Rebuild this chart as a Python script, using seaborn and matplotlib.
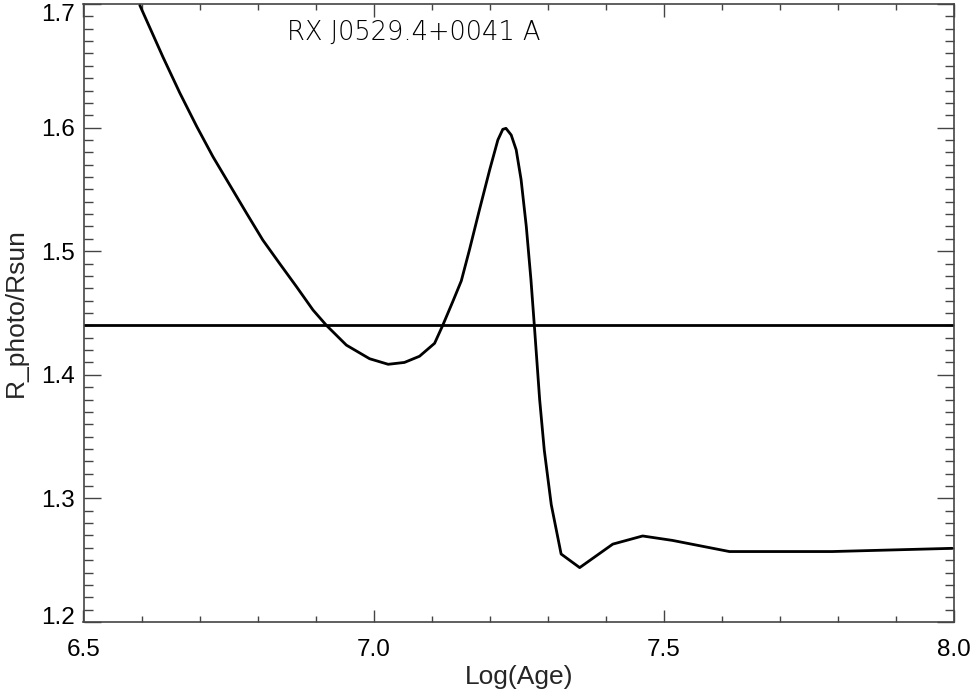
import numpy as np
import pandas as pd
import matplotlib
matplotlib.use("Agg")
import matplotlib.pyplot as plt
import matplotlib.transforms as mtransforms
from matplotlib.ticker import MultipleLocator
import seaborn as sns

# ---- data ----
log_age = [6.597, 6.637, 6.666, 6.695, 6.723, 6.752, 6.781, 6.809, 6.838, 6.867,
           6.8955, 6.9186, 6.953, 6.993,
           7.025, 7.053, 7.079, 7.105, 7.119, 7.137, 7.151, 7.165, 7.182, 7.200,
           7.214, 7.2225, 7.228, 7.237, 7.2456, 7.254, 7.263, 7.271, 7.277, 7.286,
           7.294, 7.306, 7.323, 7.355, 7.412, 7.4635, 7.515, 7.613, 7.790, 7.997]
r_photo = [1.699, 1.657, 1.628, 1.601, 1.5765, 1.5536, 1.5307, 1.509, 1.490, 1.4713,
           1.4524, 1.440, 1.424, 1.413,
           1.4085, 1.410, 1.415, 1.4255, 1.440, 1.460, 1.476, 1.501, 1.533, 1.566,
           1.590, 1.5986, 1.5994, 1.594, 1.582, 1.558, 1.520, 1.477, 1.439, 1.380,
           1.339, 1.295, 1.255, 1.244, 1.263, 1.2696, 1.266, 1.257, 1.257, 1.2596]
r_observed = 1.44
x_range = [6.5, 8.0]
y_range = [1.2, 1.7]
x_ticks = [6.5, 7.0, 7.5, 8.0]
y_ticks = [1.2, 1.3, 1.4, 1.5, 1.6, 1.7]
title_text = "RX J0529.4+0041 A"
x_label = "Log(Age)"
y_label = "R_photo/Rsun"

sns.set_style("ticks")
plt.rcParams['font.family'] = ['Liberation Sans', 'DejaVu Sans']

W, H = 973, 692
fig = plt.figure(figsize=(W / 100, H / 100), dpi=100)
ax = fig.add_axes([83.5 / W, 1 - 622 / H, (954 - 83.5) / W, (622 - 4) / H])

df = pd.DataFrame({"log_age": log_age, "r_photo": r_photo})
sns.lineplot(data=df, x="log_age", y="r_photo", sort=False, color="black",
             linewidth=2.0, ax=ax)
ax.axhline(r_observed, color="black", linewidth=2.0)

ax.set_xlim(*x_range)
ax.set_ylim(*y_range)
ax.set_xticks(x_ticks)
ax.set_yticks(y_ticks)
ax.set_xticklabels([f"{v:.1f}" for v in x_ticks])
ax.set_yticklabels([f"{v:.1f}" for v in y_ticks])
ax.xaxis.set_minor_locator(MultipleLocator(0.1))
ax.yaxis.set_minor_locator(MultipleLocator(0.01))

spine_col = "#444444"
for s in ax.spines.values():
    s.set_visible(True)
    s.set_color(spine_col)
    s.set_linewidth(1.2)

ax.tick_params(axis="both", which="both", direction="in", top=True, right=True,
               color=spine_col, labelsize=17.5, labelcolor="black")
ax.tick_params(axis="x", which="major", length=9, width=1, pad=12)
ax.tick_params(axis="x", which="minor", length=4.5, width=1)
ax.tick_params(axis="y", which="major", length=12.5, width=1, pad=6)
ax.tick_params(axis="y", which="minor", length=6.5, width=1)

# IDL keeps the end labels inside the axis extent
labs = ax.get_yticklabels()
off_top = mtransforms.ScaledTranslation(0, -8 / 100, fig.dpi_scale_trans)
off_bot = mtransforms.ScaledTranslation(0, 7 / 100, fig.dpi_scale_trans)
labs[0].set_transform(labs[0].get_transform() + off_bot)
labs[-1].set_transform(labs[-1].get_transform() + off_top)

ax.set_xlabel(x_label, fontsize=19, labelpad=3)
ax.set_ylabel(y_label, fontsize=19, labelpad=10)

ax.text(6.85, 1.677, title_text, fontsize=18.5, family=['DejaVu Sans'],
        fontweight='light', va="center", ha="left", color="black")

fig.savefig("out.png", dpi=100)
